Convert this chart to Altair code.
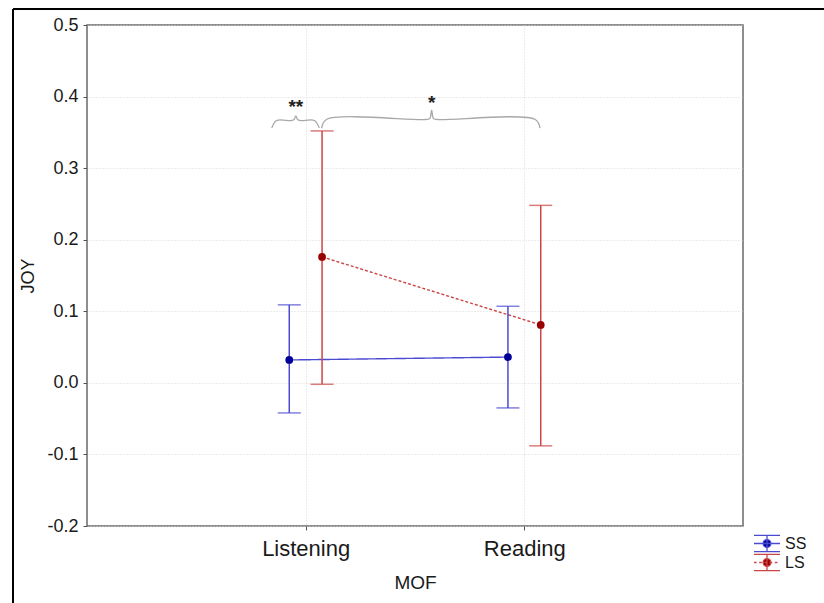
import altair as alt
import pandas as pd

# ---------------- data ----------------
groups = ["SS", "LS"]
mof_labels = ["Listening", "Reading"]
mof_pos = [1, 2]
group_offset = [-0.075, 0.075]

ss_mean = [0.032, 0.036]
ss_low = [-0.042, -0.035]
ss_high = [0.109, 0.107]
ls_mean = [0.176, 0.081]
ls_low = [-0.002, -0.088]
ls_high = [0.352, 0.248]

# significance braces (data units)
brace_x0 = [0.845, 1.073]
brace_x1 = [1.062, 2.072]
brace_xm = [0.955, 1.576]
brace_yend = [0.356, 0.356]
brace_yh = [0.3665, 0.368]
brace_ypk = [0.373, 0.381]
sig_labels = ["**", "*"]
sig_y = [0.386, 0.391]

y_ticks = [-0.2, -0.1, 0.0, 0.1, 0.2, 0.3, 0.4, 0.5]

dot_colors = ["#000099", "#990000"]
bar_colors = ["#4b4bd2", "#cc4444"]

rows = []
for gi, (g, means, lows, highs) in enumerate(
    [("SS", ss_mean, ss_low, ss_high), ("LS", ls_mean, ls_low, ls_high)]
):
    for i, m in enumerate(mof_labels):
        rows.append({"Group": g, "MOF": m, "x": mof_pos[i] + group_offset[gi],
                     "y": means[i], "low": lows[i], "high": highs[i]})
df = pd.DataFrame(rows)

brows = []
for b in range(len(brace_x0)):
    x0, x1, xm = brace_x0[b], brace_x1[b], brace_xm[b]
    ye, yh, yp = brace_yend[b], brace_yh[b], brace_ypk[b]
    e = 0.022
    s = 0.008
    pts = [(x0, ye), (x0 + e, yh), (xm - e, yh), (xm - s, yh + 0.0015), (xm, yp),
           (xm + s, yh + 0.0015), (xm + e, yh), (x1 - e, yh), (x1, ye)]
    for k, (px, py) in enumerate(pts):
        brows.append({"brace": b, "k": k, "x": px, "y": py})
bdf = pd.DataFrame(brows)
sdf = pd.DataFrame({"x": brace_xm, "y": sig_y, "label": sig_labels})

# ---------------- encodings ----------------
FONT = "Liberation Sans"
xscale = alt.Scale(domain=[0, 3], nice=False, zero=False)
yscale = alt.Scale(domain=[-0.2, 0.5], nice=False, zero=False)

xaxis = alt.Axis(values=mof_pos, title="MOF",
                 labelExpr="datum.value == 1 ? 'Listening' : (datum.value == 2 ? 'Reading' : '')",
                 labelFont=FONT, labelFontSize=22, labelColor="#1a1a1a",
                 titleFont=FONT, titleFontSize=19, titleFontWeight="normal", titleColor="#1a1a1a",
                 titleBaseline="alphabetic", titleY=62,
                 domain=False, ticks=True, tickSize=4, tickColor="#555",
                 labelPadding=8,
                 grid=True, gridColor="#d8d8d8", gridDash=[1, 2])
yaxis = alt.Axis(values=y_ticks, title="JOY",
                 labelExpr="(datum.value < -0.00001 ? '-' : '') + format(abs(datum.value), '.1f')",
                 labelFont=FONT, labelFontSize=18, labelColor="#1a1a1a",
                 titleFont=FONT, titleFontSize=18, titleFontWeight="normal", titleColor="#1a1a1a",
                 titleX=-54, titleBaseline="alphabetic",
                 domain=False, ticks=True, tickSize=4, tickColor="#555",
                 labelPadding=5,
                 grid=True, gridColor="#d8d8d8", gridDash=[1, 2])


def X(field):
    return alt.X(f"{field}:Q", scale=xscale, axis=xaxis)


def Y(field):
    return alt.Y(f"{field}:Q", scale=yscale, axis=yaxis)


stroke_enc = alt.Stroke("Group:N", scale=alt.Scale(domain=groups, range=bar_colors), legend=None)

ss_path = ("M-1,-0.62H1M-1,0H1M-1,0.62H1M0,-0.62V0.62"
           "M0.3,0A0.3,0.3,0,1,1,-0.3,0A0.3,0.3,0,1,1,0.3,0Z")
ls_path = ("M-1,-0.62H1M0,-0.62V0.62M-1,0.62H1"
           "M-1,0H-0.8M-0.6,0H-0.4M-0.2,0H0M0.2,0H0.4M0.6,0H0.8"
           "M0.3,0A0.3,0.3,0,1,1,-0.3,0A0.3,0.3,0,1,1,0.3,0Z")

legend = alt.Legend(
    title=None, orient="none", legendX=666, legendY=509,
    labelFont=FONT, labelFontSize=16, labelColor="#1a1a1a",
    symbolSize=676, clipHeight=19, rowPadding=0, labelOffset=4,
    symbolType={"expr": f"datum.value === 'SS' ? '{ss_path}' : '{ls_path}'"},
    symbolStrokeColor={"expr": f"datum.value === 'SS' ? '{bar_colors[0]}' : '{bar_colors[1]}'"},
    symbolStrokeWidth=1.3, symbolOpacity=1,
)

base = alt.Chart(df)

lines = base.mark_line(strokeWidth=1.4).encode(
    x=X("x"), y=Y("y"), stroke=stroke_enc,
    strokeDash=alt.StrokeDash("Group:N", scale=alt.Scale(domain=groups, range=[[1, 0], [3, 2]]), legend=None),
    detail="Group:N", order="x:Q",
)

bars = base.mark_rule(strokeWidth=1.5).encode(
    x=X("x"), y=Y("low"), y2="high:Q", stroke=stroke_enc,
)
cap_lo = base.mark_tick(orient="horizontal", size=23, thickness=1.5).encode(
    x=X("x"), y=Y("low"), color=alt.Color("Group:N", scale=alt.Scale(domain=groups, range=bar_colors), legend=None),
)
cap_hi = base.mark_tick(orient="horizontal", size=23, thickness=1.5).encode(
    x=X("x"), y=Y("high"), color=alt.Color("Group:N", scale=alt.Scale(domain=groups, range=bar_colors), legend=None),
)
points = base.mark_point(filled=True, size=60, opacity=1, shape="circle").encode(
    x=X("x"), y=Y("y"),
    fill=alt.Fill("Group:N", scale=alt.Scale(domain=groups, range=dot_colors), legend=legend),
)

braces = alt.Chart(bdf).mark_line(stroke="#a8a8a8", strokeWidth=1.3, interpolate="catmull-rom").encode(
    x=X("x"), y=Y("y"), detail="brace:N", order="k:Q",
)
sig = alt.Chart(sdf).mark_text(font=FONT, fontSize=19, fontWeight="bold", color="#222", baseline="middle").encode(
    x=X("x"), y=Y("y"), text="label:N",
)

one = pd.DataFrame({"a": [0]})
frame_top = alt.Chart(one).mark_rule(color="black", strokeWidth=2).encode(
    x=alt.value(-74), x2=alt.value(737), y=alt.value(-16))
frame_left = alt.Chart(one).mark_rule(color="black", strokeWidth=2).encode(
    x=alt.value(-74), y=alt.value(-16), y2=alt.value(578))

chart = alt.layer(lines, bars, cap_lo, cap_hi, points, braces, sig, frame_top, frame_left).resolve_scale(
    color="independent", fill="independent", stroke="independent"
).properties(
    width=656, height=501,
    autosize=alt.AutoSizeParams(type="none"),
    padding={"left": 87, "top": 25, "right": 81, "bottom": 77},
    background="white",
).configure_view(stroke="#6a6a6a", strokeWidth=1.5)

chart.save("out.html", embed_options={"renderer": "svg", "actions": False})
